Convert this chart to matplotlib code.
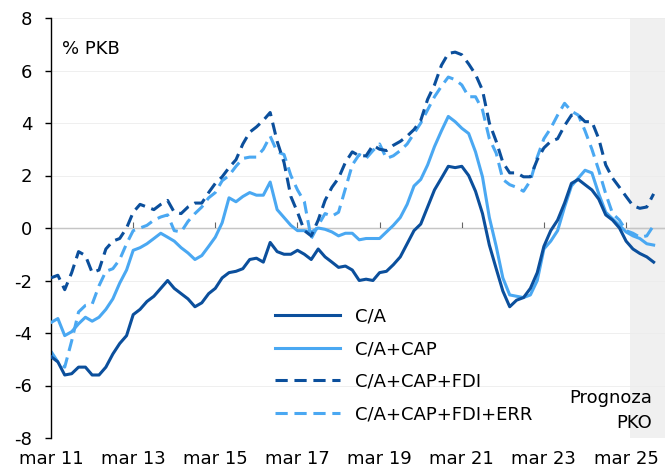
import numpy as np
import pandas as pd
import matplotlib
matplotlib.use("Agg")
import matplotlib.pyplot as plt

# monthly index, every 2nd month starting mar 2011
dates = pd.date_range("2011-03-01", periods=89, freq="2MS")

ca = [-4.9, -5.1, -5.6, -5.55, -5.3, -5.3, -5.6, -5.6, -5.3, -4.8,
      -4.4, -4.1, -3.3, -3.1, -2.8, -2.6, -2.3, -2.0, -2.3, -2.5,
      -2.7, -3.0, -2.85, -2.5, -2.3, -1.9, -1.7, -1.65, -1.55, -1.2,
      -1.15, -1.3, -0.55, -0.9, -1.0, -1.0, -0.85, -1.0, -1.2, -0.8,
      -1.1, -1.3, -1.5, -1.45, -1.6, -2.0, -1.95, -2.0, -1.7, -1.65,
      -1.4, -1.1, -0.6, -0.1, 0.15, 0.8, 1.45, 1.9, 2.35, 2.3,
      2.35, 2.0, 1.4, 0.55, -0.65, -1.55, -2.4, -3.0, -2.75, -2.65,
      -2.3, -1.7, -0.7, -0.1, 0.3, 0.95, 1.7, 1.85, 1.65, 1.45,
      1.1, 0.5, 0.3, 0.0, -0.5, -0.8, -0.97, -1.1, -1.3]

ca_cap = [-3.6, -3.45, -4.1, -3.95, -3.65, -3.4, -3.55, -3.4, -3.1, -2.7,
          -2.1, -1.6, -0.85, -0.75, -0.6, -0.4, -0.2, -0.35, -0.5, -0.75,
          -0.95, -1.2, -1.05, -0.7, -0.35, 0.2, 1.15, 1.0, 1.2, 1.35,
          1.25, 1.25, 1.75, 0.7, 0.4, 0.1, -0.1, -0.1, -0.15, 0.0,
          -0.05, -0.15, -0.3, -0.2, -0.2, -0.45, -0.4, -0.4, -0.4, -0.15,
          0.1, 0.4, 0.9, 1.6, 1.85, 2.4, 3.1, 3.7, 4.25, 4.05,
          3.8, 3.6, 2.9, 1.95, 0.4, -0.7, -1.9, -2.55, -2.6, -2.65,
          -2.55, -2.0, -0.8, -0.5, -0.1, 0.8, 1.6, 1.9, 2.2, 2.1,
          1.3, 0.6, 0.35, 0.1, -0.15, -0.3, -0.4, -0.6, -0.65]

ca_cap_fdi = [-1.9, -1.8, -2.35, -1.7, -0.9, -1.05, -1.7, -1.6, -0.8, -0.5,
              -0.4, 0.0, 0.6, 0.9, 0.8, 0.7, 0.9, 1.05, 0.6, 0.55,
              0.8, 0.95, 0.95, 1.35, 1.7, 1.95, 2.3, 2.6, 3.2, 3.65,
              3.85, 4.1, 4.4, 3.3, 2.5, 1.2, 0.6, -0.1, -0.3, 0.3,
              1.05, 1.55, 1.9, 2.5, 2.9, 2.75, 2.75, 3.15, 3.0, 2.95,
              3.15, 3.3, 3.5, 3.75, 4.1, 4.9, 5.45, 6.2, 6.65, 6.7,
              6.6, 6.25, 5.85, 5.25, 4.0, 3.3, 2.5, 2.1, 2.1, 1.95,
              1.95, 2.6, 3.05, 3.3, 3.4, 3.9, 4.3, 4.3, 4.05, 4.05,
              3.4, 2.4, 1.9, 1.55, 1.2, 0.85, 0.75, 0.8, 1.3]

ca_cap_fdi_err = [-4.7, -5.1, -5.3, -4.3, -3.2, -2.95, -2.9, -2.2, -1.65, -1.55,
                  -1.2, -0.6, -0.1, 0.0, 0.1, 0.3, 0.42, 0.5, -0.1, -0.15,
                  0.25, 0.55, 0.8, 1.15, 1.35, 1.8, 2.0, 2.35, 2.65, 2.7,
                  2.7, 3.0, 3.5, 2.9, 2.8, 2.0, 1.45, 1.0, -0.4, 0.1,
                  0.55, 0.45, 0.6, 1.5, 2.4, 2.8, 2.65, 2.95, 3.2, 2.65,
                  2.75, 2.95, 3.2, 3.6, 4.0, 4.5, 5.0, 5.4, 5.75, 5.65,
                  5.45, 5.0, 5.0, 4.5, 3.4, 2.85, 1.85, 1.65, 1.55, 1.4,
                  1.8, 2.7, 3.4, 3.8, 4.3, 4.75, 4.45, 4.3, 3.7, 3.0,
                  2.2, 1.3, 0.55, 0.3, -0.1, -0.2, -0.35, -0.3, 0.1]

tick_dates = pd.date_range("2011-03-01", "2025-03-01", freq="24MS")
tick_labels = ["mar 11", "mar 13", "mar 15", "mar 17", "mar 19", "mar 21", "mar 23", "mar 25"]
forecast_start = pd.Timestamp("2025-04-01")
x_end = pd.Timestamp("2026-02-10")

dark = "#0b4f9c"
light = "#4aa8f2"

plt.rcParams["font.family"] = ["DejaVu Sans"]
plt.rcParams["font.size"] = 13

fig = plt.figure(figsize=(6.65, 4.72), dpi=100)
ax = fig.add_axes([51 / 665, 1 - 438 / 472, 1 - 51 / 665, 420 / 472])

ax.axvspan(forecast_start, x_end, color="#f0f0f0", zorder=0, lw=0)

ax.plot(dates, ca, color=dark, lw=2.2, label="C/A", zorder=4)
ax.plot(dates, ca_cap, color=light, lw=2.2, label="C/A+CAP", zorder=3)
ax.plot(dates, ca_cap_fdi, color=dark, lw=2.2, dashes=(4, 2.2), label="C/A+CAP+FDI", zorder=3)
ax.plot(dates, ca_cap_fdi_err, color=light, lw=2.2, dashes=(4, 2.2), label="C/A+CAP+FDI+ERR", zorder=2)

ax.set_xlim(dates[0], x_end)
ax.set_ylim(-8, 8)
ax.set_yticks(np.arange(-8, 9, 2))
ax.set_yticklabels([str(v) for v in range(-8, 9, 2)])
ax.grid(axis="y", color="#ececec", lw=0.6)
ax.set_axisbelow(True)

for s in ["top", "right", "bottom"]:
    ax.spines[s].set_visible(False)
ax.spines["left"].set_color("black")
ax.spines["left"].set_linewidth(1.0)
ax.tick_params(axis="y", length=4.5, width=1, pad=9)

ax.set_xticks(tick_dates)
ax.set_xticklabels(tick_labels)
ax.tick_params(axis="x", length=0, pad=9)

# zero line with small ticks
zero = ax.secondary_xaxis(0.5)
zero.set_xticks(tick_dates[1:])
zero.set_xticklabels([])
zero.tick_params(length=4, width=0.8, color="#666666")
zero.spines["bottom"].set_color("#666666")
zero.spines["bottom"].set_linewidth(1.2)

ax.text(0.018, 0.925, "% PKB", transform=ax.transAxes, fontsize=13, va="center")
ax.text(pd.Timestamp("2025-10-15"), -6.95, "Prognoza\nPKO", ha="right", va="center",
        fontsize=13, linespacing=1.5)

ax.legend(loc="upper left", bbox_to_anchor=(0.365, 0.31), frameon=False,
          handlelength=3.6, handletextpad=0.85, labelspacing=0.8,
          borderpad=0, borderaxespad=0, fontsize=13)

fig.savefig("out.png", dpi=100)
